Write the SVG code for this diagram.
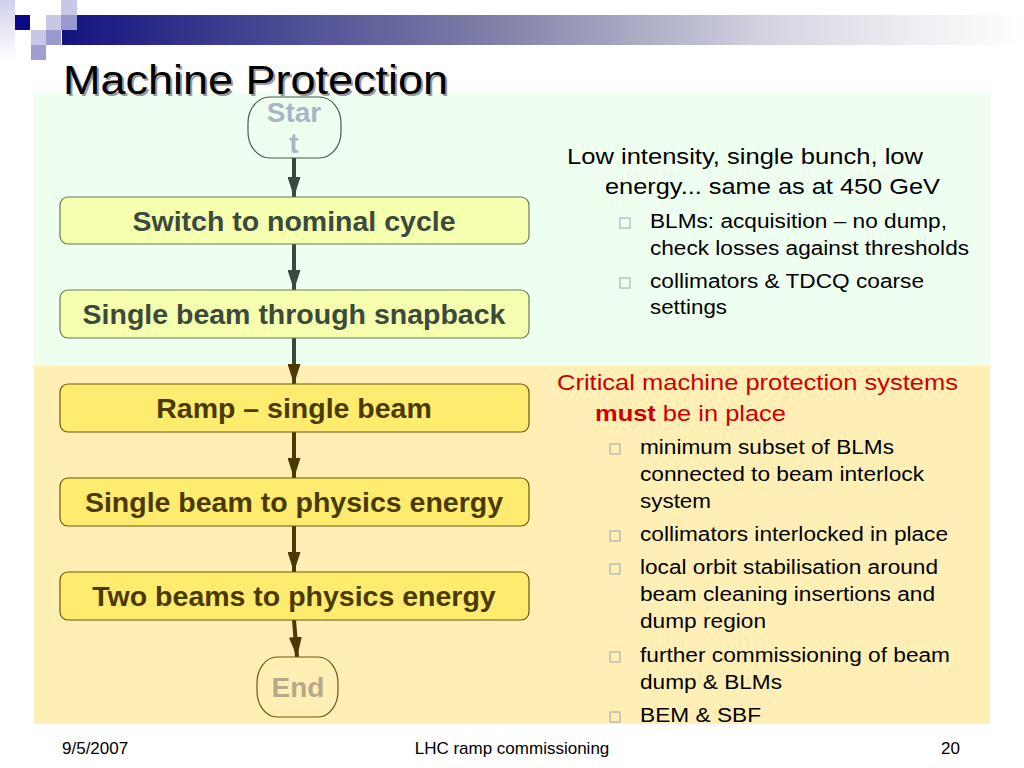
<svg xmlns="http://www.w3.org/2000/svg" width="1024" height="768" viewBox="0 0 1024 768">
<defs>
<linearGradient id="bar" x1="0" y1="0" x2="1" y2="0">
<stop offset="0" stop-color="#141480"/>
<stop offset="0.45" stop-color="#8080a8"/>
<stop offset="0.75" stop-color="#d8d8e4"/>
<stop offset="1" stop-color="#ffffff"/>
</linearGradient>
<linearGradient id="strip" x1="0" y1="0" x2="0" y2="1">
<stop offset="0" stop-color="#d0d0ec"/>
<stop offset="1" stop-color="#ffffff"/>
</linearGradient>
<marker id="ahG" viewBox="0 0 20 13" refX="20" refY="6.5" markerWidth="20" markerHeight="13" markerUnits="userSpaceOnUse" orient="auto">
<path d="M0,0 L20,6.5 L0,13 Z" fill="#3b4a3b"/>
</marker>
<marker id="ahY" viewBox="0 0 20 13" refX="20" refY="6.5" markerWidth="20" markerHeight="13" markerUnits="userSpaceOnUse" orient="auto">
<path d="M0,0 L20,6.5 L0,13 Z" fill="#4a3a00"/>
</marker>
</defs>
<style>
.sans{font-family:"Liberation Sans",Arial,sans-serif}
.boxG{fill:#f6ffb0;stroke:#6a7a5a;stroke-width:1.2}
.boxY{fill:#ffec6e;stroke:#6a5a10;stroke-width:1.2}
.lblG{font-family:"Liberation Sans",Arial,sans-serif;font-weight:bold;font-size:28.5px;fill:#3b4a3b;text-anchor:middle}
.lblY{font-family:"Liberation Sans",Arial,sans-serif;font-weight:bold;font-size:28.5px;fill:#4a3a00;text-anchor:middle}
.cG{stroke:#3b4a3b;stroke-width:4;fill:none}
.cY{stroke:#4a3a00;stroke-width:4;fill:none}
.body{font-family:"Liberation Sans",Arial,sans-serif;font-size:22px;fill:#000}
.red{font-family:"Liberation Sans",Arial,sans-serif;font-size:22px;fill:#cc0000}
.sub{font-family:"Liberation Sans",Arial,sans-serif;font-size:20px;fill:#000}
.bul{fill:none;stroke:#a0a0b8;stroke-width:1}
.foot{font-family:"Liberation Sans",Arial,sans-serif;font-size:17px;fill:#000}
</style>
<rect x="0" y="0" width="1024" height="768" fill="#ffffff"/>
<g id="header">
<rect x="0" y="0" width="15" height="60" fill="url(#strip)"/>
<rect x="62" y="15" width="962" height="30" fill="url(#bar)"/>
<rect x="15" y="15" width="15" height="15" fill="#0a0a88"/>
<rect x="46" y="15" width="15" height="15" fill="#c8c8e6"/>
<rect x="61" y="0" width="16" height="15" fill="#c8c8e6"/>
<rect x="61" y="15" width="16" height="15" fill="#9a9ad0"/>
<rect x="31" y="30" width="15" height="15" fill="#c8c8e6"/>
<rect x="46" y="30" width="15" height="15" fill="#9a9ad0"/>
<rect x="31" y="45" width="15" height="15" fill="#a0a0d0"/>
</g>
<rect x="34" y="93" width="956" height="273" fill="#efffef"/>
<rect x="34" y="366" width="956" height="358" fill="#ffefb5"/>
<g id="title">
<text x="65" y="96" class="sans" font-size="40" fill="#999999" textLength="385" lengthAdjust="spacingAndGlyphs">Machine Protection</text>
<text x="63" y="94" class="sans" font-size="40" fill="#000000" textLength="385" lengthAdjust="spacingAndGlyphs">Machine Protection</text>
</g>
<g id="connectors">
<line class="cG" x1="294" y1="158" x2="294" y2="197" marker-end="url(#ahG)"/>
<line class="cG" x1="294" y1="244" x2="294" y2="290" marker-end="url(#ahG)"/>
<line class="cG" x1="294" y1="338" x2="294" y2="384" marker-end="url(#ahY)"/>
<line class="cY" x1="294" y1="432" x2="294" y2="478" marker-end="url(#ahY)"/>
<line class="cY" x1="294" y1="526" x2="294" y2="572" marker-end="url(#ahY)"/>
<line class="cY" x1="294" y1="620" x2="297" y2="657" marker-end="url(#ahY)"/>
</g>
<g id="start">
<rect x="248" y="97" width="93" height="61" rx="22" ry="26" fill="#efffef" stroke="#4a5a4a" stroke-width="1.2"/>
<text x="294" y="122" class="sans" font-size="28" font-weight="bold" fill="#aab4c8" text-anchor="middle">Star</text>
<text x="294" y="153" class="sans" font-size="28" font-weight="bold" fill="#aab4c8" text-anchor="middle">t</text>
</g>
<g id="n1">
<rect class="boxG" x="60" y="197" width="469" height="47" rx="8"/>
<text class="lblG" x="294" y="231">Switch to nominal cycle</text>
</g>
<g id="n2">
<rect class="boxG" x="60" y="290" width="469" height="48" rx="8"/>
<text class="lblG" x="294" y="324">Single beam through snapback</text>
</g>
<g id="n3">
<rect class="boxY" x="60" y="384" width="469" height="48" rx="8"/>
<text class="lblY" x="294" y="418">Ramp – single beam</text>
</g>
<g id="n4">
<rect class="boxY" x="60" y="478" width="469" height="48" rx="8"/>
<text class="lblY" x="294" y="512">Single beam to physics energy</text>
</g>
<g id="n5">
<rect class="boxY" x="60" y="572" width="469" height="48" rx="8"/>
<text class="lblY" x="294" y="606">Two beams to physics energy</text>
</g>
<g id="end">
<rect x="257" y="657" width="81" height="60" rx="20" ry="26" fill="#ffefb5" stroke="#6a5a10" stroke-width="1.2"/>
<text x="298" y="697" class="sans" font-size="28" font-weight="bold" fill="#b8a88a" text-anchor="middle">End</text>
</g>
<g id="notes-top">
<text class="body" x="567" y="164" textLength="356" lengthAdjust="spacingAndGlyphs">Low intensity, single bunch, low</text>
<text class="body" x="605" y="194" textLength="335" lengthAdjust="spacingAndGlyphs">energy... same as at 450 GeV</text>
<rect class="bul" x="620" y="218" width="10" height="10"/>
<text class="sub" x="650" y="228" textLength="297" lengthAdjust="spacingAndGlyphs">BLMs: acquisition – no dump,</text>
<text class="sub" x="650" y="255" textLength="319" lengthAdjust="spacingAndGlyphs">check losses against thresholds</text>
<rect class="bul" x="620" y="278" width="10" height="10"/>
<text class="sub" x="650" y="288" textLength="274" lengthAdjust="spacingAndGlyphs">collimators &amp; TDCQ coarse</text>
<text class="sub" x="650" y="314" textLength="77" lengthAdjust="spacingAndGlyphs">settings</text>
</g>
<g id="notes-bottom">
<text class="red" x="557" y="390" textLength="401" lengthAdjust="spacingAndGlyphs">Critical machine protection systems</text>
<text class="red" x="595" y="421" textLength="191" lengthAdjust="spacingAndGlyphs"><tspan font-weight="bold">must</tspan> be in place</text>
<rect class="bul" x="610" y="444" width="10" height="10"/>
<text class="sub" x="640" y="454" textLength="254" lengthAdjust="spacingAndGlyphs">minimum subset of BLMs</text>
<text class="sub" x="640" y="481" textLength="284" lengthAdjust="spacingAndGlyphs">connected to beam interlock</text>
<text class="sub" x="640" y="508" textLength="71" lengthAdjust="spacingAndGlyphs">system</text>
<rect class="bul" x="610" y="531" width="10" height="10"/>
<text class="sub" x="640" y="541" textLength="308" lengthAdjust="spacingAndGlyphs">collimators interlocked in place</text>
<rect class="bul" x="610" y="564" width="10" height="10"/>
<text class="sub" x="640" y="574" textLength="298" lengthAdjust="spacingAndGlyphs">local orbit stabilisation around</text>
<text class="sub" x="640" y="601" textLength="295" lengthAdjust="spacingAndGlyphs">beam cleaning insertions and</text>
<text class="sub" x="640" y="628" textLength="126" lengthAdjust="spacingAndGlyphs">dump region</text>
<rect class="bul" x="610" y="652" width="10" height="10"/>
<text class="sub" x="640" y="662" textLength="310" lengthAdjust="spacingAndGlyphs">further commissioning of beam</text>
<text class="sub" x="640" y="689" textLength="142" lengthAdjust="spacingAndGlyphs">dump &amp; BLMs</text>
<rect class="bul" x="610" y="712" width="10" height="10"/>
<text class="sub" x="640" y="722" textLength="121" lengthAdjust="spacingAndGlyphs">BEM &amp; SBF</text>
</g>
<g id="footer">
<text class="foot" x="62" y="754">9/5/2007</text>
<text class="foot" x="512" y="754" text-anchor="middle">LHC ramp commissioning</text>
<text class="foot" x="960" y="754" text-anchor="end">20</text>
</g>
</svg>
